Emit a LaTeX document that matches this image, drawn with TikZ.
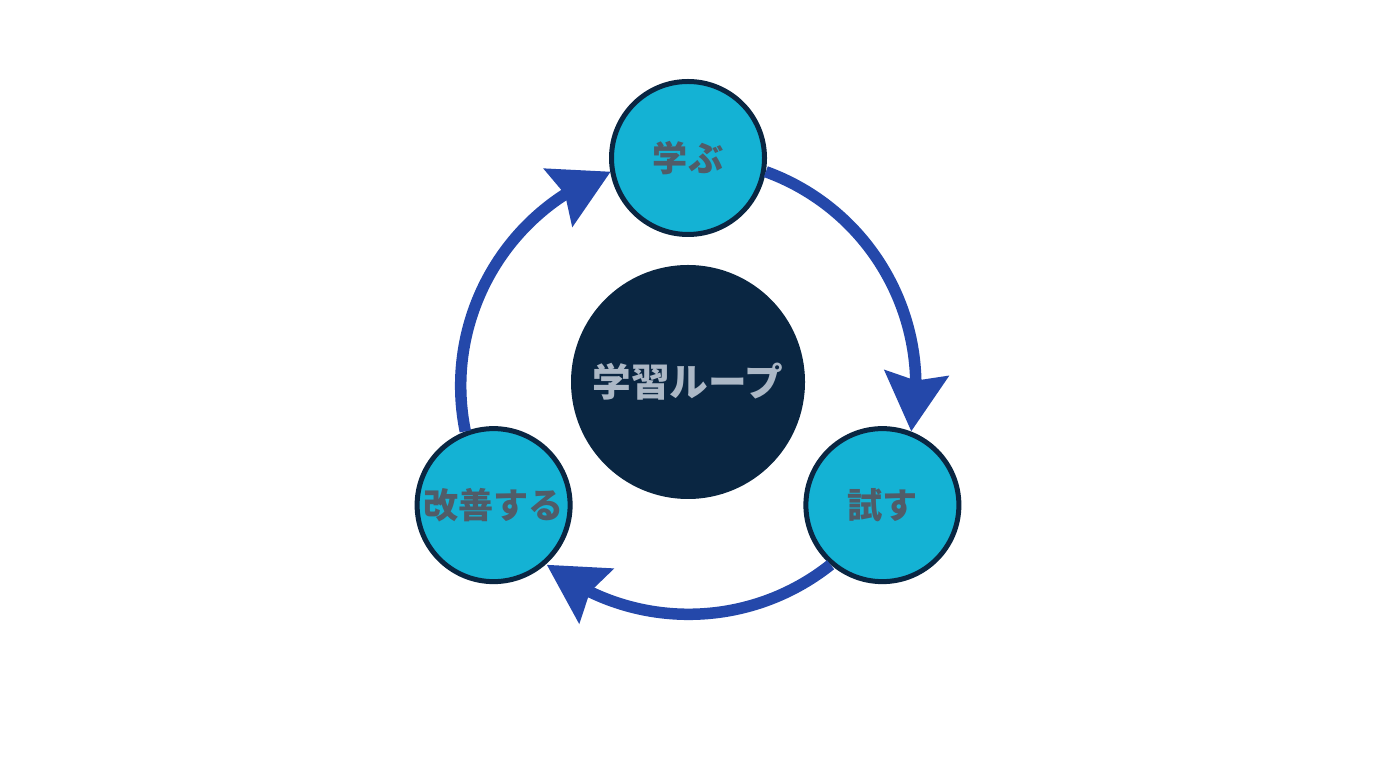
\documentclass[tikz,border=0pt]{standalone}
\usepackage{fontspec}
\setmainfont{Noto Sans CJK JP}
\usepackage{tikz}
\usetikzlibrary{arrows.meta, bending, calc}
\definecolor{loopcyan}{RGB}{20,178,212}
\definecolor{loopnavy}{RGB}{10,38,66}
\definecolor{loopblue}{RGB}{36,72,170}
\definecolor{looptext}{RGB}{80,92,104}
\definecolor{corelabel}{RGB}{172,184,198}

\begin{document}
\begin{tikzpicture}[
    stage/.style={circle, fill=loopcyan, draw=loopnavy, line width=0.1cm,
      minimum size=3.06cm, inner sep=0pt, text=looptext,
      font=\fontsize{20}{24}\selectfont\bfseries},
    core/.style={circle, fill=loopnavy, minimum size=4.68cm, inner sep=0pt,
      text=corelabel, font=\fontsize{22}{26}\selectfont\bfseries},
    cyclearrow/.style={loopblue, line width=0.23cm,
      -{Stealth[length=1.16cm, width=1.26cm, inset=0.14cm, flex]}}
  ]
  % Frame
  \useasboundingbox[fill=white] (0,0) rectangle (27.52,15.36);
  % Centre of the loop
  \coordinate (loop) at (13.76,7.64);
  % Core
  \node[core] (core) at (13.76,7.72) {学習ループ};
  % Stages
  \node[stage] (learn) at ($(loop)+(90:4.56)$) {学ぶ};
  \node[stage] (try) at ($(loop)+(-31.5:4.56)$) {試す};
  \node[stage] (improve) at ($(loop)+(211.5:4.56)$) {改善する};
  % Cycle arrows, on the circle through the stages
  \draw[cyclearrow] (learn.-10) arc[start angle=70, end angle=-11.5, radius=4.56cm];
  \draw[cyclearrow] (try.-131.5) arc[start angle=-51.5, end angle=-128.5, radius=4.56cm];
  \draw[cyclearrow] (improve.111.5) arc[start angle=191.5, end angle=110, radius=4.56cm];
\end{tikzpicture}
\end{document}
